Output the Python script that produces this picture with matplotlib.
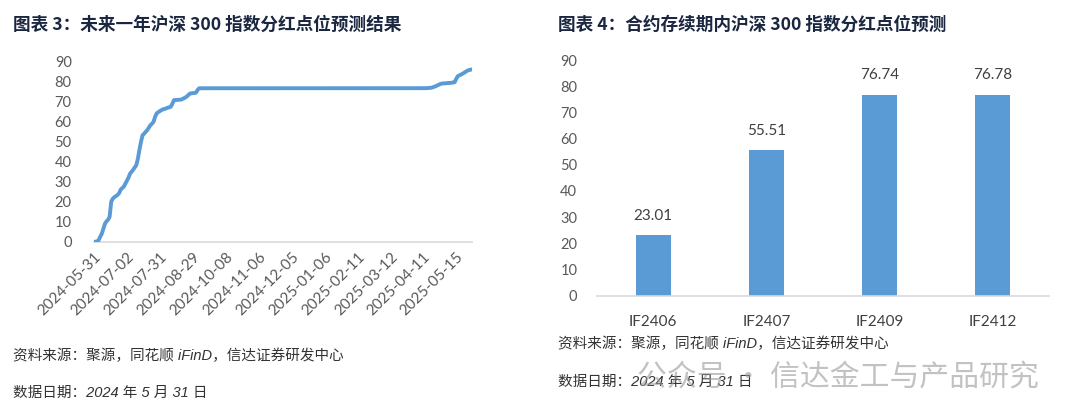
import numpy as np
import matplotlib
matplotlib.use("Agg")
import matplotlib.pyplot as plt

# left chart: cumulative dividend points, one value per trading day (2024-05-31 .. 2025-05-30)
dividend_points = [
    0.00, 0.00, 0.10, 0.80, 2.50, 4.00, 6.50, 9.00, 10.20, 11.00,
    12.50, 20.00, 21.50, 22.30, 22.80, 23.40, 24.20, 26.00, 26.80, 27.50,
    29.00, 30.60, 32.00, 34.00, 35.00, 36.00, 37.20, 38.30, 41.50, 46.00,
    50.00, 53.30, 54.00, 55.00, 55.80, 57.00, 58.30, 59.00, 60.00, 62.50,
    64.20, 64.80, 65.30, 65.80, 66.20, 66.40, 66.70, 67.00, 67.20, 67.50,
    69.00, 70.80, 70.90, 70.90, 71.00, 71.00, 71.20, 71.60, 72.00, 72.50,
    73.20, 74.00, 74.20, 74.30, 74.40, 74.50, 75.80, 76.70, 76.74, 76.74,
    76.74, 76.74, 76.74, 76.74, 76.74, 76.74, 76.74, 76.74, 76.74, 76.74,
    76.74, 76.74, 76.74, 76.74, 76.74, 76.74, 76.74, 76.74, 76.74, 76.74,
    76.74, 76.74, 76.74, 76.74, 76.74, 76.74, 76.74, 76.74, 76.74, 76.74,
    76.74, 76.74, 76.74, 76.74, 76.74, 76.74, 76.74, 76.74, 76.74, 76.74,
    76.74, 76.74, 76.74, 76.74, 76.74, 76.74, 76.74, 76.74, 76.74, 76.74,
    76.74, 76.74, 76.74, 76.74, 76.74, 76.74, 76.74, 76.74, 76.74, 76.74,
    76.78, 76.78, 76.78, 76.78, 76.78, 76.78, 76.78, 76.78, 76.78, 76.78,
    76.78, 76.78, 76.78, 76.78, 76.78, 76.78, 76.78, 76.78, 76.78, 76.78,
    76.78, 76.78, 76.78, 76.78, 76.78, 76.78, 76.78, 76.78, 76.78, 76.78,
    76.78, 76.78, 76.78, 76.78, 76.78, 76.78, 76.78, 76.78, 76.78, 76.78,
    76.78, 76.78, 76.78, 76.78, 76.78, 76.78, 76.78, 76.78, 76.78, 76.78,
    76.78, 76.78, 76.78, 76.78, 76.78, 76.78, 76.78, 76.78, 76.78, 76.78,
    76.78, 76.78, 76.78, 76.78, 76.78, 76.78, 76.78, 76.78, 76.78, 76.78,
    76.78, 76.78, 76.78, 76.78, 76.78, 76.78, 76.78, 76.78, 76.78, 76.78,
    76.78, 76.78, 76.80, 76.85, 76.90, 77.00, 77.20, 77.50, 77.80, 78.20,
    78.60, 78.90, 79.10, 79.20, 79.20, 79.30, 79.40, 79.40, 79.50, 79.60,
    79.80, 81.50, 82.80, 83.20, 83.60, 84.00, 84.50, 85.00, 85.50, 85.80,
    86.00, 86.20,
]
date_labels = ["2024-05-31", "2024-07-02", "2024-07-31", "2024-08-29", "2024-10-08",
               "2024-11-06", "2024-12-05", "2025-01-06", "2025-02-11", "2025-03-12",
               "2025-04-11", "2025-05-15"]
label_step = 21  # one date label every 21 trading days

# right chart
contracts = ["IF2406", "IF2407", "IF2409", "IF2412"]
contract_points = [23.01, 55.51, 76.74, 76.78]

BLUE = "#5B9BD5"
TICK = "#595959"
AXIS = "#D9D9D9"
TITLE = "#1B2640"
CJK = ["Noto Sans CJK SC", "DejaVu Sans"]
FOOT = ["Liberation Sans", "Noto Sans CJK SC", "DejaVu Sans"]

plt.rcParams["font.family"] = ["Lato", "Noto Sans CJK SC", "DejaVu Sans"]

fig = plt.figure(figsize=(10.8, 4.2), dpi=100)

# ---- left: line chart
ax1 = fig.add_axes([0.087, 0.4245, 0.350, 0.4285])
x = np.arange(len(dividend_points))
ax1.plot(x, dividend_points, color=BLUE, lw=2.8, solid_capstyle="round")
ax1.set_xlim(0, len(dividend_points) - 1)
ax1.set_ylim(0, 90)
ax1.set_yticks(range(0, 91, 10))
ax1.set_xticks(np.arange(len(date_labels)) * label_step)
ax1.set_xticklabels(date_labels, rotation=45, ha="right", va="top", rotation_mode="anchor")
ax1.tick_params(axis="x", length=0, pad=6, labelsize=11, labelcolor=TICK)
ax1.tick_params(axis="y", length=0, pad=16, labelsize=10.5, labelcolor=TICK)
for s in ["top", "right", "left"]:
    ax1.spines[s].set_visible(False)
ax1.spines["bottom"].set_color(AXIS)
ax1.spines["bottom"].set_linewidth(1.2)
ax1.spines["bottom"].set_zorder(0)

# ---- right: bar chart
ax2 = fig.add_axes([0.5525, 0.296, 0.4188, 0.561])
pos = np.arange(len(contracts))
bars = ax2.bar(pos, contract_points, width=0.31, color=BLUE)
for b, v in zip(bars, contract_points):
    ax2.annotate(f"{v:.2f}", (b.get_x() + b.get_width() / 2, v), xytext=(0, 9),
                 textcoords="offset points", ha="center", va="bottom",
                 fontsize=11, color="#404040")
ax2.set_xlim(-0.5, len(contracts) - 0.5)
ax2.set_ylim(0, 90)
ax2.set_yticks(range(0, 91, 10))
ax2.set_xticks(pos)
ax2.set_xticklabels(contracts)
ax2.tick_params(axis="x", length=0, pad=14, labelsize=11, labelcolor="#404040")
ax2.tick_params(axis="y", length=0, pad=14, labelsize=10.5, labelcolor=TICK)
for s in ["top", "right", "left"]:
    ax2.spines[s].set_visible(False)
ax2.spines["bottom"].set_color(AXIS)
ax2.spines["bottom"].set_linewidth(1.2)

# ---- titles
fig.text(13 / 1080, 1 - 25 / 420, "图表 3：未来一年沪深 300 指数分红点位预测结果",
         family=CJK, fontsize=12.7, fontweight="bold", color=TITLE, va="center")
fig.text(558 / 1080, 1 - 25 / 420, "图表 4：合约存续期内沪深 300 指数分红点位预测",
         family=CJK, fontsize=12.7, fontweight="bold", color=TITLE, va="center")

# ---- footnotes
src = "资料来源：聚源，同花顺 iFinD，信达证券研发中心"
day = "数据日期：2024 年 5 月 31 日"
fig.text(13 / 1080, 1 - 356 / 420, src, family=FOOT, style="italic", fontsize=10.5,
         color="#333333", va="center")
fig.text(13 / 1080, 1 - 393 / 420, day, family=FOOT, style="italic", fontsize=10.5,
         color="#333333", va="center")
fig.text(558 / 1080, 1 - 344 / 420, src, family=FOOT, style="italic", fontsize=10.5,
         color="#333333", va="center")
fig.text(558 / 1080, 1 - 382 / 420, day, family=FOOT, style="italic", fontsize=10.5,
         color="#333333", va="center")

# watermark (overlaps the date line, as in the source page)
fig.text(637 / 1080, 1 - 377 / 420, "公众号 · 信达金工与产品研究", family=CJK,
         fontsize=21.5, color="#9a9a9a", alpha=0.6, va="center", zorder=10)

fig.savefig("out.png", dpi=100)
